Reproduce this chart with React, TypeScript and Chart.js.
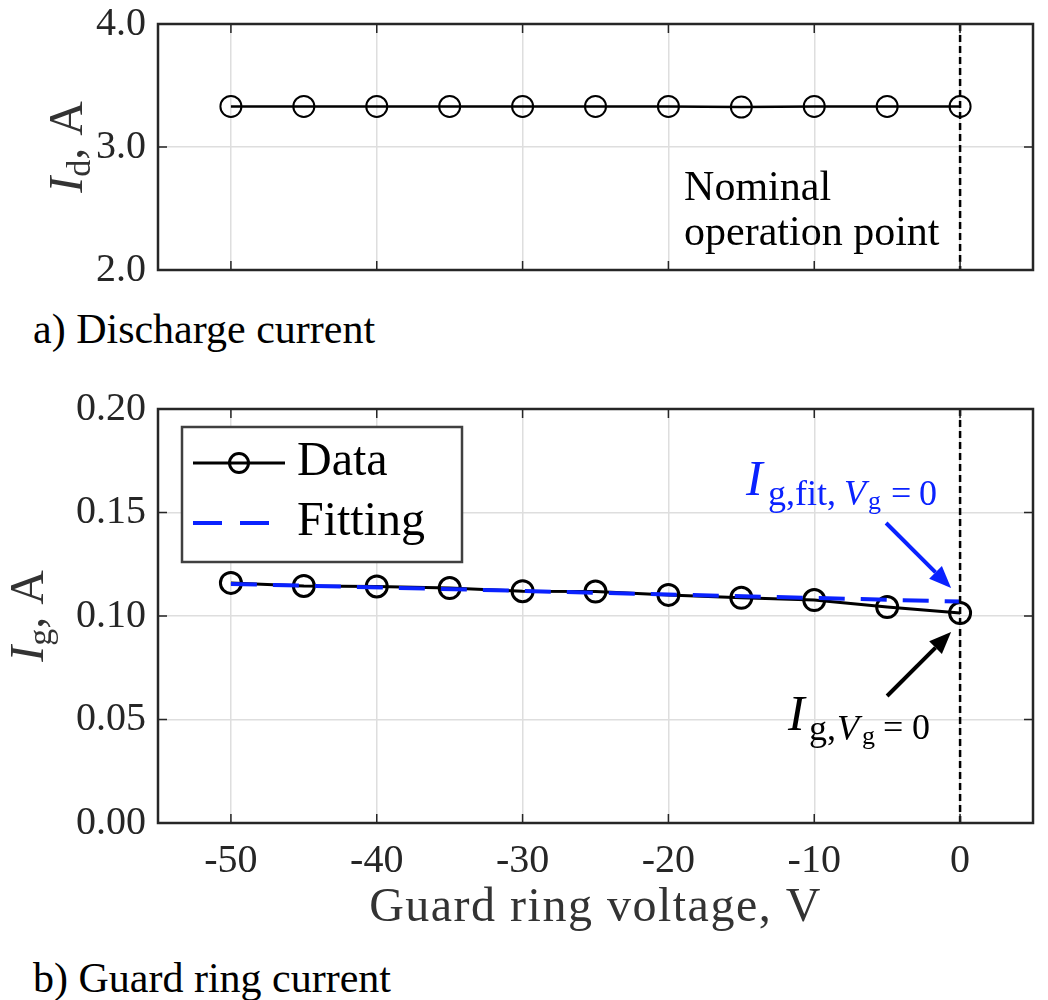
import React, { useEffect, useRef } from "react";
import { Chart, registerables } from "chart.js";

Chart.register(...registerables);

// ---------- data ----------
const voltages = [-50, -45, -40, -35, -30, -25, -20, -15, -10, -5, 0];
const dischargeCurrent = [3.33, 3.33, 3.33, 3.33, 3.33, 3.33, 3.33, 3.325, 3.33, 3.33, 3.33];
const guardCurrent = [0.116, 0.1145, 0.1143, 0.1135, 0.112, 0.1118, 0.1102, 0.1088, 0.1077, 0.1043, 0.1014];
const fitVoltages = [-50, 0];
const fitCurrent = [0.1155, 0.107];
const xTicks = [-50, -40, -30, -20, -10, 0];
const xRange = [-55, 5];
const idTicks = [2, 3, 4];
const igTicks = [0, 0.05, 0.1, 0.15, 0.2];
const nominalVoltage = 0;

// ---------- style ----------
const SERIF = '"Liberation Serif", "Times New Roman", serif';
const INK = "#262626";
const GRID = "#dedede";
const BLUE = "#0a22ff";

type Seg = { t: string; size: number; italic?: boolean; dy?: number; x?: number };

function fnt(size: number, italic = false) {
  return `${italic ? "italic " : ""}${size}px ${SERIF}`;
}

function drawRich(ctx: CanvasRenderingContext2D, segs: Seg[], x: number, y: number) {
  let cx = x;
  for (const s of segs) {
    ctx.font = fnt(s.size, s.italic);
    const px = s.x !== undefined ? x + s.x : cx;
    ctx.fillText(s.t, px, y + (s.dy || 0));
    cx = px + ctx.measureText(s.t).width;
  }
  return cx - x;
}

function measureRich(ctx: CanvasRenderingContext2D, segs: Seg[]) {
  let w = 0;
  for (const s of segs) {
    ctx.font = fnt(s.size, s.italic);
    w += ctx.measureText(s.t).width;
  }
  return w;
}

function drawFrame(chart: any, yTitle: Seg[], yTitleX: number) {
  const { ctx, chartArea: a, scales } = chart;
  const xs = scales.x;
  const ys = scales.y;
  ctx.save();
  ctx.strokeStyle = INK;
  ctx.lineWidth = 1.5;
  ctx.setLineDash([]);
  const tl = 9;
  ctx.beginPath();
  for (const t of xs.ticks) {
    const p = xs.getPixelForValue(t.value);
    ctx.moveTo(p, a.bottom);
    ctx.lineTo(p, a.bottom - tl);
    ctx.moveTo(p, a.top);
    ctx.lineTo(p, a.top + tl);
  }
  for (const t of ys.ticks) {
    const p = ys.getPixelForValue(t.value);
    ctx.moveTo(a.left, p);
    ctx.lineTo(a.left + tl, p);
    ctx.moveTo(a.right, p);
    ctx.lineTo(a.right - tl, p);
  }
  ctx.stroke();
  ctx.lineWidth = 2.5;
  ctx.strokeRect(a.left, a.top, a.right - a.left, a.bottom - a.top);

  const w = measureRich(ctx, yTitle);
  const cy = (a.top + a.bottom) / 2;
  ctx.translate(yTitleX, cy + w / 2);
  ctx.rotate(-Math.PI / 2);
  ctx.fillStyle = "#333";
  ctx.textBaseline = "alphabetic";
  ctx.textAlign = "left";
  drawRich(ctx, yTitle, 0, 0);
  ctx.restore();
}

function drawNominalLine(chart: any) {
  const { ctx, chartArea: a, scales } = chart;
  const p = scales.x.getPixelForValue(nominalVoltage);
  ctx.save();
  ctx.strokeStyle = "#000";
  ctx.lineWidth = 2.5;
  ctx.setLineDash([7, 4]);
  ctx.beginPath();
  ctx.moveTo(p, a.top);
  ctx.lineTo(p, a.bottom);
  ctx.stroke();
  ctx.restore();
}

function arrow(ctx: CanvasRenderingContext2D, x1: number, y1: number, x2: number, y2: number, color: string) {
  const ang = Math.atan2(y2 - y1, x2 - x1);
  const hl = 22;
  const hw = 9;
  const bx = x2 - hl * Math.cos(ang);
  const by = y2 - hl * Math.sin(ang);
  ctx.save();
  ctx.strokeStyle = color;
  ctx.fillStyle = color;
  ctx.lineWidth = 4;
  ctx.setLineDash([]);
  ctx.beginPath();
  ctx.moveTo(x1, y1);
  ctx.lineTo(bx, by);
  ctx.stroke();
  ctx.beginPath();
  ctx.moveTo(x2, y2);
  ctx.lineTo(bx + hw * Math.sin(ang), by - hw * Math.cos(ang));
  ctx.lineTo(bx - hw * Math.sin(ang), by + hw * Math.cos(ang));
  ctx.closePath();
  ctx.fill();
  ctx.restore();
}

function xScaleOpts(showLabels: boolean, height: number) {
  return {
    type: "linear" as const,
    min: xRange[0],
    max: xRange[1],
    afterBuildTicks: (s: any) => {
      s.ticks = xTicks.map((value) => ({ value }));
    },
    afterFit: (s: any) => {
      s.height = height;
      s.paddingLeft = 0;
      s.paddingRight = 0;
    },
    ticks: {
      display: showLabels,
      font: { family: SERIF, size: 40 },
      color: INK,
      padding: 14,
      maxRotation: 0,
      autoSkip: false,
      callback: (v: any) => String(v),
    },
    grid: { color: GRID, lineWidth: 1.5, drawTicks: false },
    border: { display: false },
  };
}

function yScaleOpts(ticks: number[], digits: number) {
  return {
    type: "linear" as const,
    min: ticks[0],
    max: ticks[ticks.length - 1],
    afterBuildTicks: (s: any) => {
      s.ticks = ticks.map((value) => ({ value }));
    },
    afterFit: (s: any) => {
      s.width = 158;
      s.paddingTop = 0;
      s.paddingBottom = 0;
    },
    ticks: {
      font: { family: SERIF, size: 40 },
      color: INK,
      padding: 12,
      callback: (v: any) => Number(v).toFixed(digits),
    },
    grid: { color: GRID, lineWidth: 1.5, drawTicks: false },
    border: { display: false },
  };
}

const idTitle: Seg[] = [
  { t: "I", size: 48, italic: true },
  { t: "d", size: 34, dy: 8 },
  { t: ", A", size: 48 },
];
const igTitle: Seg[] = [
  { t: "I", size: 48, italic: true },
  { t: "g", size: 34, dy: 8 },
  { t: ", A", size: 48 },
];

export default function App() {
  const c1 = useRef<HTMLCanvasElement>(null);
  const c2 = useRef<HTMLCanvasElement>(null);

  useEffect(() => {
    const topPlugin = {
      id: "topDeco",
      afterDatasetsDraw(chart: any) {
        drawNominalLine(chart);
        const { ctx, scales } = chart;
        const x0 = scales.x.getPixelForValue(nominalVoltage);
        ctx.save();
        ctx.fillStyle = "#000";
        ctx.font = fnt(42);
        ctx.textAlign = "left";
        ctx.textBaseline = "alphabetic";
        ctx.fillText("Nominal", x0 - 276, 200);
        ctx.fillText("operation point", x0 - 276, 245);
        ctx.restore();
      },
      afterDraw(chart: any) {
        drawFrame(chart, idTitle, 82);
      },
    };

    const bottomPlugin = {
      id: "bottomDeco",
      afterDatasetsDraw(chart: any) {
        drawNominalLine(chart);
        const { ctx, chartArea: a, scales } = chart;
        const x0 = scales.x.getPixelForValue(nominalVoltage);
        ctx.save();
        ctx.textAlign = "left";
        ctx.textBaseline = "alphabetic";

        // blue annotation
        ctx.fillStyle = BLUE;
        drawRich(
          ctx,
          [
            { t: "I", size: 50, italic: true, x: 0 },
            { t: "g,fit,", size: 36, x: 22, dy: 10 },
            { t: "V", size: 36, italic: true, x: 98, dy: 10 },
            { t: "g", size: 26, x: 122, dy: 14 },
            { t: "=", size: 36, x: 145, dy: 10 },
            { t: "0", size: 36, x: 173, dy: 10 },
          ],
          x0 - 214,
          a.top + 86
        );
        arrow(ctx, x0 - 74, a.top + 114, x0 - 9, a.top + 179, BLUE);

        // black annotation
        ctx.fillStyle = "#000";
        drawRich(
          ctx,
          [
            { t: "I", size: 50, italic: true, x: 0 },
            { t: "g,", size: 36, x: 21, dy: 10 },
            { t: "V", size: 36, italic: true, x: 49, dy: 10 },
            { t: "g", size: 26, x: 74, dy: 14 },
            { t: "=", size: 36, x: 95, dy: 9 },
            { t: "0", size: 36, x: 124, dy: 9 },
          ],
          x0 - 172,
          a.top + 321
        );
        arrow(ctx, x0 - 73, a.top + 287, x0 - 9, a.top + 223, "#000");

        // legend
        const lx = a.left + 24;
        const ly = a.top + 18;
        ctx.fillStyle = "#fff";
        ctx.fillRect(lx, ly, 280, 135);
        ctx.strokeStyle = "#404040";
        ctx.lineWidth = 2.5;
        ctx.strokeRect(lx, ly, 280, 135);

        ctx.strokeStyle = "#000";
        ctx.lineWidth = 3;
        ctx.beginPath();
        ctx.moveTo(lx + 11, ly + 36);
        ctx.lineTo(lx + 103, ly + 36);
        ctx.stroke();
        ctx.beginPath();
        ctx.arc(lx + 57, ly + 36, 9.5, 0, Math.PI * 2);
        ctx.stroke();

        ctx.strokeStyle = BLUE;
        ctx.lineWidth = 4;
        ctx.setLineDash([29, 18]);
        ctx.beginPath();
        ctx.moveTo(lx + 11, ly + 96);
        ctx.lineTo(lx + 103, ly + 96);
        ctx.stroke();
        ctx.setLineDash([]);

        ctx.fillStyle = "#000";
        ctx.font = fnt(48);
        ctx.fillText("Data", lx + 115, ly + 48);
        ctx.fillText("Fitting", lx + 115, ly + 108);
        ctx.restore();
      },
      afterDraw(chart: any) {
        drawFrame(chart, igTitle, 43);
        const { ctx, chartArea: a } = chart;
        ctx.save();
        ctx.fillStyle = "#333";
        ctx.font = fnt(48);
        (ctx as any).letterSpacing = "1.5px";
        ctx.textAlign = "center";
        ctx.textBaseline = "alphabetic";
        ctx.fillText("Guard ring voltage, V", (a.left + a.right) / 2, 541);
        ctx.restore();
      },
    };

    const ch1 = new Chart(c1.current as HTMLCanvasElement, {
      type: "line",
      data: {
        datasets: [
          {
            label: "Discharge current",
            data: voltages.map((v, i) => ({ x: v, y: dischargeCurrent[i] })),
            borderColor: "#000",
            borderWidth: 2.5,
            pointStyle: "circle",
            pointRadius: 10.5,
            pointBorderWidth: 2,
            pointBorderColor: "#000",
            pointBackgroundColor: "rgba(0,0,0,0)",
            tension: 0,
          },
        ],
      },
      options: {
        animation: false,
        responsive: false,
        layout: { padding: { top: 24, right: 15, left: 0, bottom: 0 } },
        plugins: { legend: { display: false }, tooltip: { enabled: false } },
        scales: {
          x: xScaleOpts(false, 30) as any,
          y: yScaleOpts(idTicks, 1) as any,
        },
      },
      plugins: [topPlugin],
    });

    const ch2 = new Chart(c2.current as HTMLCanvasElement, {
      type: "line",
      data: {
        datasets: [
          {
            label: "Fitting",
            data: fitVoltages.map((v, i) => ({ x: v, y: fitCurrent[i] })),
            borderColor: BLUE,
            borderWidth: 4,
            borderDash: [26, 16],
            pointRadius: 0,
            tension: 0,
          },
          {
            label: "Data",
            data: voltages.map((v, i) => ({ x: v, y: guardCurrent[i] })),
            borderColor: "#000",
            borderWidth: 3,
            pointStyle: "circle",
            pointRadius: 10.5,
            pointBorderWidth: 3,
            pointBorderColor: "#000",
            pointBackgroundColor: "rgba(0,0,0,0)",
            tension: 0,
          },
        ],
      },
      options: {
        animation: false,
        responsive: false,
        layout: { padding: { top: 29, right: 15, left: 0, bottom: 0 } },
        plugins: { legend: { display: false }, tooltip: { enabled: false } },
        scales: {
          x: xScaleOpts(true, 117) as any,
          y: yScaleOpts(igTicks, 2) as any,
        },
      },
      plugins: [bottomPlugin],
    });

    return () => {
      ch1.destroy();
      ch2.destroy();
    };
  }, []);

  const labelStyle: React.CSSProperties = {
    position: "absolute",
    left: 33,
    font: `42px ${SERIF}`,
    lineHeight: "42px",
    whiteSpace: "nowrap",
    color: "#000",
  };

  return (
    <div
      style={{
        position: "absolute",
        left: 0,
        top: 0,
        width: 1048,
        height: 1000,
        background: "#fff",
        overflow: "hidden",
      }}
    >
      <canvas ref={c1} width={1048} height={300} style={{ position: "absolute", left: 0, top: 0 }} />
      <div style={{ ...labelStyle, top: 308 }}>a) Discharge current</div>
      <canvas ref={c2} width={1048} height={560} style={{ position: "absolute", left: 0, top: 380 }} />
      <div style={{ ...labelStyle, top: 957 }}>b) Guard ring current</div>
    </div>
  );
}
